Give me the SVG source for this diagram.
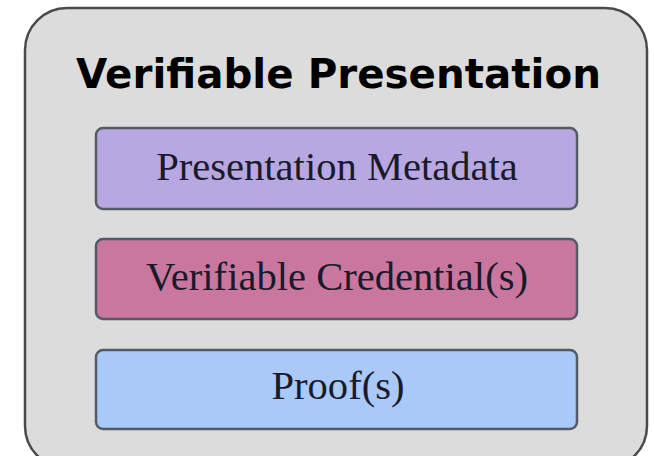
<svg xmlns="http://www.w3.org/2000/svg" width="654" height="456" viewBox="0 0 654 456">
<style>
.box{stroke:#555a66;stroke-width:2.5}
.lbl{font-family:"Liberation Serif","DejaVu Serif",serif;font-size:40.6px;fill:#1a1a2a;text-anchor:middle}
.title{font-family:"DejaVu Sans","Liberation Sans",sans-serif;font-weight:bold;font-size:40.4px;fill:#000;text-anchor:middle}
</style>
<rect width="654" height="456" fill="#ffffff"/>
<g id="vp">
<rect x="25" y="8" width="622" height="460" rx="42" ry="42" fill="#dcdcdc" stroke="#4a4a4a" stroke-width="2.5"/>
<text class="title" x="338.5" y="88">Verifiable Presentation</text>
</g>
<g id="metadata">
<rect class="box" x="96" y="128" width="481" height="81" rx="7" fill="#b8a8e2"/>
<text class="lbl" x="337" y="180">Presentation Metadata</text>
</g>
<g id="credentials">
<rect class="box" x="96" y="239" width="481" height="80" rx="7" fill="#c9779f"/>
<text class="lbl" x="337" y="290">Verifiable Credential(s)</text>
</g>
<g id="proofs">
<rect class="box" x="96" y="350" width="481" height="79" rx="7" fill="#a9c9f8"/>
<text class="lbl" x="338" y="399">Proof(s)</text>
</g>
<g id="connectors"/>
</svg>
